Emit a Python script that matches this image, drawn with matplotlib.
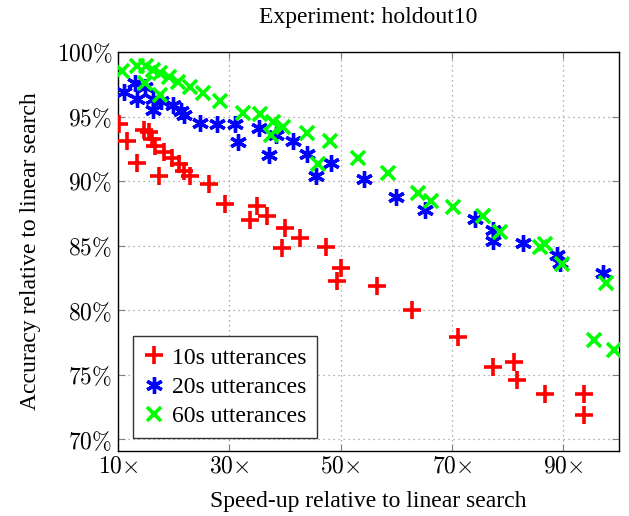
import matplotlib.pyplot as plt
from matplotlib.ticker import FuncFormatter

plt.rcParams['font.family'] = ['Liberation Serif', 'DejaVu Serif']
plt.rcParams['mathtext.fontset'] = 'cm'

# speed-up (x) and accuracy in % (y) for each utterance length
x_10s = [10.2, 11.6, 14.6, 15.5, 16.1, 13.4, 16.7, 18.2, 17.3, 19.7, 20.9, 21.8,
         23.0, 26.3, 29.3, 34.9, 33.7, 36.7, 40.0, 39.4, 42.7, 47.3, 50.0, 49.3,
         56.5, 62.8, 71.0, 77.4, 81.2, 81.7, 86.7, 93.7, 93.7]
y_10s = [94.4, 93.1, 94.0, 93.8, 93.3, 91.4, 92.7, 92.3, 90.4, 91.8, 91.3, 90.8,
         90.4, 89.8, 88.2, 88.1, 87.0, 87.3, 86.4, 84.8, 85.6, 84.9, 83.3, 82.3,
         81.9, 80.0, 77.9, 75.6, 76.0, 74.6, 73.5, 73.5, 71.9]

x_20s = [11.0, 13.1, 13.4, 14.8, 16.3, 16.3, 17.8, 19.9, 21.4, 21.8, 24.7, 27.7,
         31.0, 31.6, 35.3, 37.2, 38.4, 41.4, 43.9, 45.6, 48.2, 54.2, 59.9, 65.1,
         74.1, 77.4, 77.4, 82.8, 88.8, 89.4, 97.1]
y_20s = [96.9, 97.6, 96.4, 97.3, 96.4, 95.5, 96.2, 95.9, 95.4, 95.1, 94.5, 94.4,
         94.4, 93.0, 94.1, 92.0, 93.6, 93.1, 92.1, 90.4, 91.4, 90.2, 88.8, 87.8,
         87.1, 86.2, 85.4, 85.2, 84.3, 83.7, 82.9]

x_60s = [10.7, 13.4, 15.0, 16.3, 17.5, 14.8, 17.5, 19.2, 20.8, 22.9, 25.3, 28.3,
         32.5, 35.5, 37.9, 37.4, 39.6, 44.0, 46.0, 48.1, 53.1, 58.5, 63.9, 66.3,
         70.2, 75.6, 78.6, 85.8, 86.7, 89.8, 97.7, 95.6, 99.2]
y_60s = [98.5, 98.9, 98.9, 98.6, 98.4, 97.6, 96.7, 98.1, 97.7, 97.3, 96.8, 96.2,
         95.3, 95.2, 94.6, 93.6, 94.2, 93.7, 91.3, 93.1, 91.8, 90.6, 89.1, 88.5,
         88.0, 87.3, 86.1, 84.9, 85.1, 83.6, 82.1, 77.7, 76.9]

x_ticks = [10, 30, 50, 70, 90]
y_ticks = [70, 75, 80, 85, 90, 95, 100]

fig = plt.figure(figsize=(6.29, 5.16), dpi=100)
ax = fig.add_axes([0.1876, 0.126, 0.7964, 0.773])

ax.plot(x_10s, y_10s, '+', color=(1, 0, 0), markersize=13, mew=2.6,
        label='10s utterances', zorder=3)
ax.plot(x_20s, y_20s, marker=(6, 2, 0), linestyle='none', color=(0, 0, 1),
        markersize=12, mew=2.4, label='20s utterances', zorder=3)
ax.plot(x_60s, y_60s, 'x', color=(0, 1, 0), markersize=10, mew=2.6,
        label='60s utterances', zorder=3)

ax.set_xlim(10, 100)
ax.set_ylim(69.1, 100)
ax.set_xticks(x_ticks)
ax.set_yticks(y_ticks)
ax.xaxis.set_major_formatter(FuncFormatter(lambda v, p: r'$%d{\times}$' % v))
ax.yaxis.set_major_formatter(FuncFormatter(lambda v, p: r'$%d\%%$' % v))
ax.tick_params(direction='in', length=5, width=0.8, color='#808080',
               labelsize=17, top=True, right=True, pad=4)
ax.grid(True, linestyle=(0, (1, 3)), color='#999999', linewidth=0.9)
for s in ax.spines.values():
    s.set_linewidth(1.0)

ax.set_title('Experiment: holdout10', fontsize=17, pad=21)
ax.set_xlabel('Speed-up relative to linear search', fontsize=17, labelpad=10)
ax.set_ylabel('Accuracy relative to linear search', fontsize=17, labelpad=11)

leg = ax.legend(loc='lower left', fontsize=17, fancybox=False, framealpha=1,
                edgecolor='#333333', borderpad=0.45, handletextpad=0.3,
                handlelength=0.9, labelspacing=0.33, borderaxespad=0,
                bbox_to_anchor=(0.030, 0.033))
leg.get_frame().set_linewidth(1.0)

fig.savefig('out.png', dpi=100)
